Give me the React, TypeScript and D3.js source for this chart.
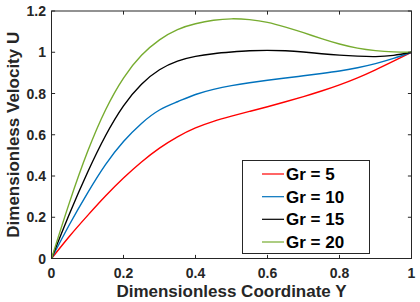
import React from "react";
import * as d3 from "d3";

const xs = [0, 0.05, 0.1, 0.15, 0.2, 0.25, 0.3, 0.35, 0.4, 0.45, 0.5, 0.55, 0.6, 0.65, 0.7, 0.75, 0.8, 0.85, 0.9, 0.95, 1];
const gr5 = [0, 0.108, 0.208, 0.303, 0.39, 0.468, 0.535, 0.59, 0.633, 0.665, 0.69, 0.713, 0.736, 0.76, 0.785, 0.812, 0.842, 0.876, 0.915, 0.957, 1];
const gr10 = [0, 0.165, 0.317, 0.455, 0.567, 0.655, 0.72, 0.76, 0.795, 0.82, 0.838, 0.852, 0.864, 0.875, 0.886, 0.897, 0.909, 0.925, 0.945, 0.97, 1];
const gr15 = [0, 0.217, 0.417, 0.595, 0.74, 0.845, 0.915, 0.957, 0.98, 0.993, 1.001, 1.007, 1.009, 1.007, 1.001, 0.993, 0.986, 0.981, 0.979, 0.985, 1];
const gr20 = [0, 0.272, 0.517, 0.72, 0.875, 0.985, 1.06, 1.11, 1.138, 1.155, 1.162, 1.158, 1.145, 1.122, 1.095, 1.066, 1.04, 1.02, 1.008, 1.002, 1];

const seriesNames = ["Gr = 5", "Gr = 10", "Gr = 15", "Gr = 20"];
const seriesColors = ["#FF0000", "#0072BD", "#000000", "#77AC30"];
const seriesValues = [gr5, gr10, gr15, gr20];

const xTicks = [0, 0.2, 0.4, 0.6, 0.8, 1];
const yTicks = [0, 0.2, 0.4, 0.6, 0.8, 1, 1.2];
const xTickLabels = ["0", "0.2", "0.4", "0.6", "0.8", "1"];
const yTickLabels = ["0", "0.2", "0.4", "0.6", "0.8", "1", "1.2"];

const W = 420;
const H = 302;
const L = 51.5;
const R = 411.5;
const T = 11;
const B = 258.5;
const FONT = "Arial, 'Liberation Sans', Helvetica, sans-serif";
const AX = "#262626";

export default function App() {
  const x = d3.scaleLinear().domain([0, 1]).range([L, R]);
  const y = d3.scaleLinear().domain([0, 1.2]).range([B, T]);
  const line = d3
    .line<number>()
    .x((_, i) => x(xs[i]))
    .y((d) => y(d))
    .curve(d3.curveNatural);
  const tl = 3.6;
  const legX = 242.5;
  const legY = 160.5;
  const legW = 127;
  const legH = 93;
  const rowY = [174, 196.7, 219.3, 242];
  return (
    <div style={{ position: "absolute", left: 0, top: 0 }}>
      <svg width={W} height={H} style={{ display: "block", background: "#fff" }}>
        <rect x={0} y={0} width={W} height={H} fill="#fff" />
        {seriesValues.map((vals, k) => (
          <path key={k} d={line(vals) || ""} fill="none" stroke={seriesColors[k]} strokeWidth={1.4} />
        ))}
        <rect x={L} y={T} width={R - L} height={B - T} fill="none" stroke={AX} strokeWidth={1} />
        {xTicks.map((t, i) => (
          <g key={"xt" + i}>
            <line x1={x(t)} x2={x(t)} y1={B} y2={B - tl} stroke={AX} />
            <line x1={x(t)} x2={x(t)} y1={T} y2={T + tl} stroke={AX} />
            <text x={x(t)} y={278} textAnchor="middle" fontFamily={FONT} fontWeight="bold" fontSize={14} fill={AX}>
              {xTickLabels[i]}
            </text>
          </g>
        ))}
        {yTicks.map((t, i) => (
          <g key={"yt" + i}>
            <line x1={L} x2={L + tl} y1={y(t)} y2={y(t)} stroke={AX} />
            <line x1={R} x2={R - tl} y1={y(t)} y2={y(t)} stroke={AX} />
            <text x={46} y={y(t) + 5} textAnchor="end" fontFamily={FONT} fontWeight="bold" fontSize={14} fill={AX}>
              {yTickLabels[i]}
            </text>
          </g>
        ))}
        <text x={(L + R) / 2} y={297} textAnchor="middle" fontFamily={FONT} fontWeight="bold" fontSize={17} fill={AX}>
          Dimensionless Coordinate Y
        </text>
        <text
          transform={`translate(19, ${(T + B) / 2}) rotate(-90)`}
          textAnchor="middle"
          fontFamily={FONT}
          fontWeight="bold"
          fontSize={17}
          fill={AX}
        >
          Dimensionless Velocity U
        </text>
        <rect x={legX} y={legY} width={legW} height={legH} fill="#fff" stroke={AX} strokeWidth={1} />
        {seriesNames.map((n, k) => (
          <g key={"lg" + k}>
            <line x1={262} x2={284} y1={rowY[k]} y2={rowY[k]} stroke={seriesColors[k]} strokeWidth={1.2} />
            <text x={286} y={rowY[k] + 6} fontFamily={FONT} fontWeight="bold" fontSize={17} fill="#000">
              {n}
            </text>
          </g>
        ))}
      </svg>
    </div>
  );
}
